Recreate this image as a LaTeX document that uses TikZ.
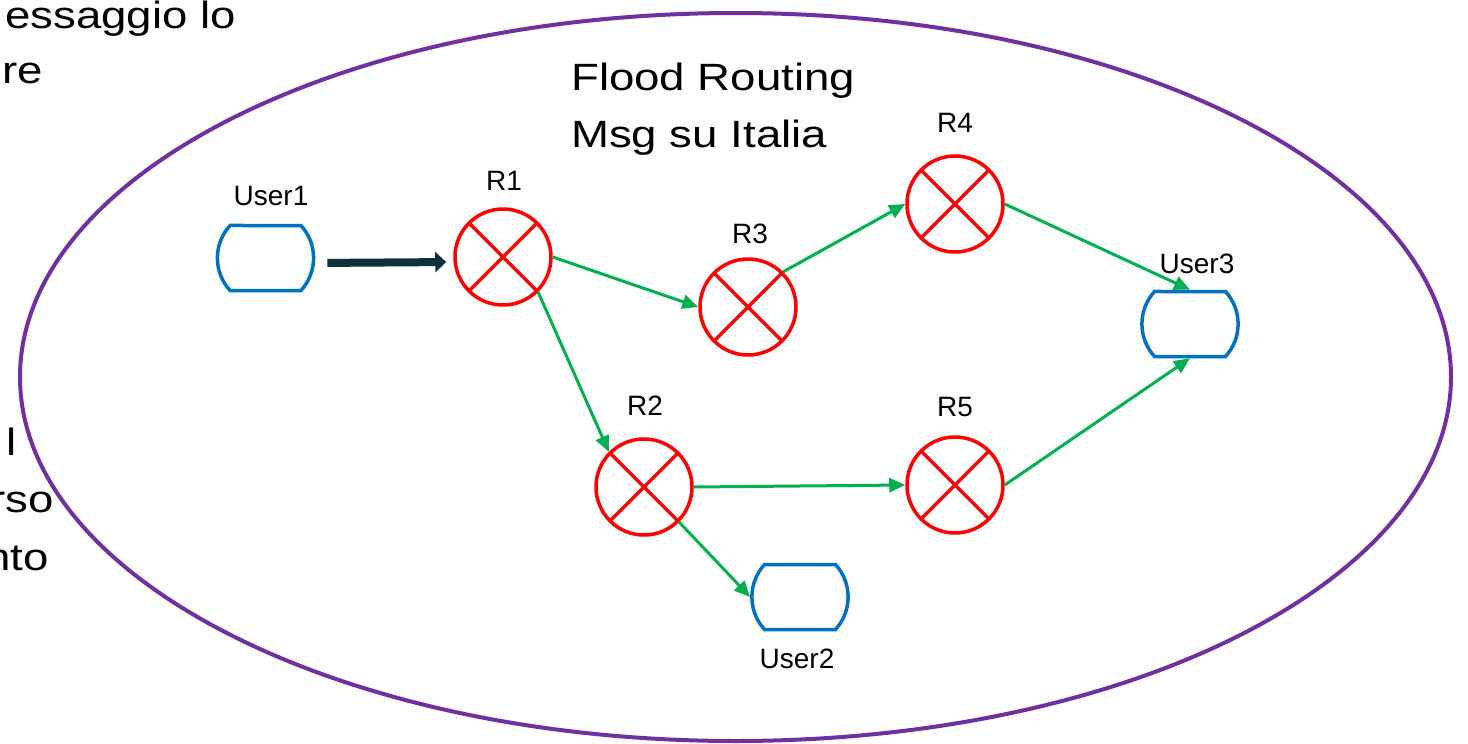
\documentclass[tikz,border=0pt]{standalone}
\usepackage{fontspec}
\setmainfont{Liberation Sans}
\newfontfamily\slidefont[FakeStretch=1.2]{Liberation Sans}
\usetikzlibrary{arrows.meta}
\usetikzlibrary{shapes.misc}
\usepackage{xcolor}
\definecolor{ringpurple}{HTML}{7030A0}
\definecolor{routerred}{HTML}{FF0000}
\definecolor{userblue}{HTML}{0070C0}
\definecolor{flowgreen}{HTML}{00B050}
\definecolor{pushdark}{HTML}{10313A}

\tikzset{
 router/.style={circle, draw=routerred, line width=3.5pt, minimum size=96pt, inner sep=0pt,
   path picture={\draw[routerred, line width=3.5pt] (path picture bounding box.north west) -- (path picture bounding box.south east) (path picture bounding box.north east) -- (path picture bounding box.south west);}},
 user/.style={rounded rectangle, rounded rectangle arc length=85, draw=userblue, line width=3.5pt, minimum height=65pt, inner sep=0pt},
 tag/.style={font=\fontsize{28}{30}\selectfont, inner sep=0pt, anchor=base},
 big/.style={font=\slidefont\fontsize{38}{44}\selectfont, inner sep=0pt},
 flow/.style={draw=flowgreen, line width=3pt, -{Triangle[length=16pt,width=14pt]}},
}

\begin{document}
\begin{tikzpicture}[x=1pt, y=-1pt]
\useasboundingbox (0,0) rectangle (1468,744);
\clip (0,0) rectangle (1468,744);
% text cut at the left border
\node[big, anchor=base east] (txta) at (236,28) {essaggio lo};
\node[big, anchor=base east] (txtb) at (43,83) {re};
\node[big, anchor=base east] (txtc) at (17,455) {l};
\node[big, anchor=base east] (txtd) at (54,512) {rso};
\node[big, anchor=base east] (txte) at (49,570) {nto};
\draw[ringpurple, line width=4pt] (735.5,377) ellipse [x radius=715.5, y radius=364];
\node[big, anchor=base west] (title1) at (571,90) {Flood Routing};
\node[big, anchor=base west] (title2) at (571,147) {Msg su Italia};
% users and routers
\node[user] (user1) at (265.5,258) {};
\node[user] (user2) at (800,597) {};
\node[user] (user3) at (1190,324) {};
\node[router] (r1) at (503,257) {};
\node[router] (r2) at (644,487) {};
\node[router] (r3) at (748,307) {};
\node[router] (r4) at (955,204) {};
\node[router] (r5) at (955,485) {};
\node[tag] (user1lbl) at (271,205) {User1};
\node[tag] (user2lbl) at (797,668) {User2};
\node[tag] (user3lbl) at (1197,273) {User3};
\node[tag] (r1lbl) at (504,190) {R1};
\node[tag] (r2lbl) at (645,415) {R2};
\node[tag] (r3lbl) at (750,243) {R3};
\node[tag] (r4lbl) at (955,132) {R4};
\node[tag] (r5lbl) at (955,416) {R5};
% connections
\draw[pushdark, line width=8pt, shorten <=12pt, shorten >=7pt, -{Triangle[length=11pt,width=20pt]}] ([yshift=-5pt]user1.east) -- ([yshift=-5pt]r1.west);
\draw[flow] (r1.east) -- (r3.west);
\draw[flow] (r1.-45) -- (r2.135);
\draw[flow] (r3.45) -- (r4.west);
\draw[flow] (r4.east) -- (user3.north);
\draw[flow] (r2.east) -- (r5.west);
\draw[flow] (r5.east) -- (user3.south);
\draw[flow] (r2.-45) -- (user2.west);
\end{tikzpicture}
\end{document}
